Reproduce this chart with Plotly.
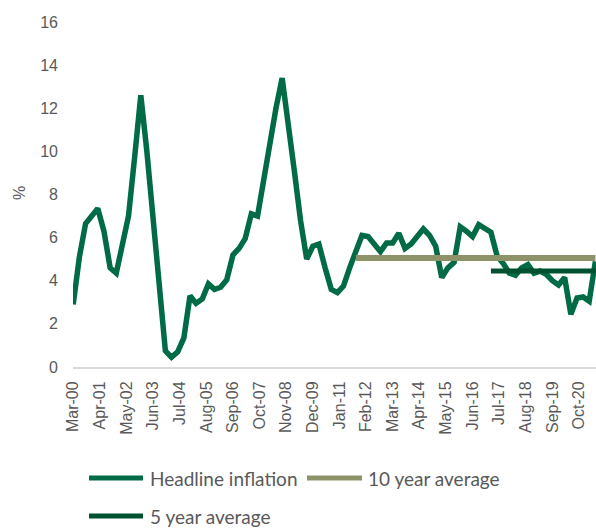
import pandas as pd
import plotly.graph_objects as go

# ---- data (quarterly headline inflation, %) ----
start_date = "2000-03-01"
headline = [
    2.9, 5.1, 6.65, 7.0, 7.35, 6.3, 4.6, 4.35, 5.6, 7.0,
    9.75, 12.6, 10.0, 7.0, 3.9, 0.75, 0.45, 0.7, 1.35, 3.3,
    2.95, 3.15, 3.85, 3.6, 3.7, 4.05, 5.2, 5.5, 5.95, 7.1,
    7.0, 8.7, 10.3, 12.0, 13.4, 11.0, 9.1, 6.8, 5.0, 5.6,
    5.7, 4.6, 3.6, 3.45, 3.75, 4.6, 5.4, 6.1, 6.05, 5.7,
    5.35, 5.75, 5.75, 6.2, 5.5, 5.7, 6.1, 6.4, 6.1, 5.6,
    4.15, 4.6, 4.85, 6.5, 6.3, 6.05, 6.6, 6.4, 6.25, 5.15,
    4.8, 4.35, 4.25, 4.6, 4.75, 4.35, 4.45, 4.3, 4.0, 3.8,
    4.15, 2.45, 3.2, 3.25, 3.05, 4.9,
]
dates = pd.date_range(start_date, periods=len(headline), freq="3MS")

ten_year_avg = 5.05
ten_year_start = "2011-09-01"
five_year_avg = 4.45
five_year_start = "2017-03-01"

tick_labels = ["Mar-00", "Apr-01", "May-02", "Jun-03", "Jul-04", "Aug-05",
               "Sep-06", "Oct-07", "Nov-08", "Dec-09", "Jan-11", "Feb-12",
               "Mar-13", "Apr-14", "May-15", "Jun-16", "Jul-17", "Aug-18",
               "Sep-19", "Oct-20"]
tick_vals = [pd.to_datetime(t, format="%b-%y") for t in tick_labels]

series_names = ["Headline inflation", "10 year average", "5 year average"]
colors = ["#006B45", "#8E9269", "#00512F"]

end_date = dates[-1]

fig = go.Figure()
fig.add_trace(go.Scatter(x=dates, y=headline, mode="lines", name=series_names[0],
                         line=dict(color=colors[0], width=5.5), showlegend=False))
fig.add_trace(go.Scatter(x=[pd.Timestamp(ten_year_start), end_date],
                         y=[ten_year_avg, ten_year_avg], mode="lines",
                         name=series_names[1],
                         line=dict(color=colors[1], width=6), showlegend=False))
fig.add_trace(go.Scatter(x=[pd.Timestamp(five_year_start), end_date],
                         y=[five_year_avg, five_year_avg], mode="lines",
                         name=series_names[2],
                         line=dict(color=colors[2], width=5), showlegend=False))

W, H = 596, 529
L, R, T, B = 73, 0, 22, 162
pw, ph = W - L - R, H - T - B

def px(x):
    return (x - L) / pw

def py(y):
    return (H - B - y) / ph

text_color = "#595959"
legend_font = dict(family="Lato, Carlito, sans-serif", size=19, color=text_color)

# custom legend (line swatches + labels)
legend_items = [
    (89, 143, 478, 148, series_names[0], colors[0]),
    (307, 362, 478, 366, series_names[1], colors[1]),
    (89, 143, 516, 148, series_names[2], colors[2]),
]
shapes = []
annotations = []
for x0, x1, yy, tx, label, col in legend_items:
    shapes.append(dict(type="line", xref="paper", yref="paper",
                       x0=px(x0), x1=px(x1), y0=py(yy), y1=py(yy),
                       line=dict(color=col, width=5)))
    annotations.append(dict(xref="paper", yref="paper", x=px(tx), y=py(yy),
                            xanchor="left", yanchor="middle", showarrow=False,
                            text=label, font=legend_font))

annotations.append(dict(xref="paper", yref="paper", x=px(19), y=py(193),
                        xanchor="center", yanchor="middle", showarrow=False,
                        text="%", textangle=-90,
                        font=dict(family="Liberation Sans, Arial", size=16,
                                  color=text_color)))

fig.update_layout(
    width=W, height=H,
    margin=dict(l=L, r=R, t=T, b=B, pad=0),
    paper_bgcolor="white", plot_bgcolor="white",
    showlegend=False,
    shapes=shapes, annotations=annotations,
    font=dict(family="Liberation Sans, Arial", size=16, color=text_color),
)
fig.update_xaxes(
    type="date",
    range=["2000-02-27", "2021-06-10"],
    tickvals=tick_vals, ticktext=tick_labels,
    tickangle=-90, ticks="", showgrid=False, zeroline=False,
    showline=True, linecolor="#D9D9D9", linewidth=2,
    ticklabelstandoff=6,
    tickfont=dict(family="Liberation Sans, Arial", size=16, color=text_color),
)
fig.update_yaxes(
    range=[0, 16], dtick=2, tick0=0, ticks="", showgrid=False,
    zeroline=False, showline=False,
    ticklabelstandoff=14,
    tickfont=dict(family="Liberation Sans, Arial", size=16, color=text_color),
)

fig.write_html("out.html")
